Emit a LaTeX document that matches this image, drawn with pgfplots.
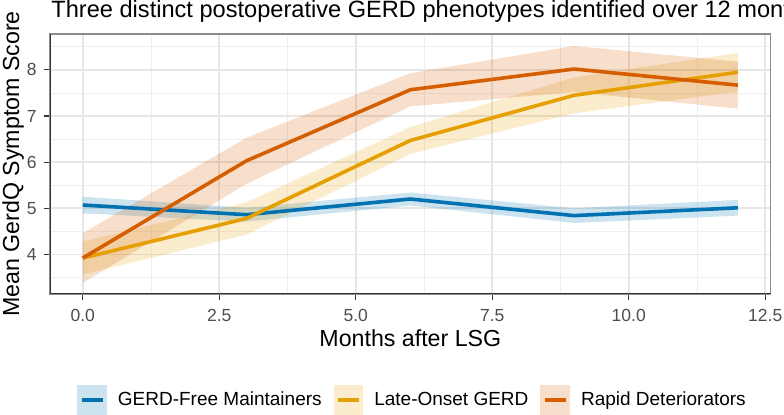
\documentclass[border=0pt]{standalone}
\usepackage{pgfplots}
\pgfplotsset{compat=1.18}
\usepackage{fontspec}
\setmainfont{Liberation Sans}

\definecolor{cfree}{HTML}{0072B2}
\definecolor{clate}{HTML}{E69F00}
\definecolor{crapid}{HTML}{D55E00}
\definecolor{gridmajor}{HTML}{E6E6E6}
\definecolor{gridminor}{HTML}{EFEFEF}
\definecolor{grey30}{HTML}{4D4D4D}
\definecolor{grey20}{HTML}{333333}
\definecolor{bordergrey}{HTML}{8C8C8C}

\pgfplotsset{
  freekey/.style={legend image code/.code={
    \fill[cfree!20] (0pt,-6.5pt) rectangle (13pt,6.5pt);
    \draw[line width=1.8pt] (1.2pt,0pt) -- (11.8pt,0pt);}},
  latekey/.style={legend image code/.code={
    \fill[clate!20] (0pt,-6.5pt) rectangle (13pt,6.5pt);
    \draw[line width=1.8pt] (1.2pt,0pt) -- (11.8pt,0pt);}},
  rapidkey/.style={legend image code/.code={
    \fill[crapid!20] (0pt,-6.5pt) rectangle (13pt,6.5pt);
    \draw[line width=1.8pt] (1.2pt,0pt) -- (11.8pt,0pt);}},
}

\begin{document}
\begin{tikzpicture}
\begin{axis}[
  at={(25pt,60.5pt)}, anchor=south west,
  scale only axis, width=360.35pt, height=130pt,
  xmin=-0.6, xmax=12.6, ymin=3.14, ymax=8.78,
  xtick={0,2.5,5,7.5,10,12.5},
  xticklabels={0.0,2.5,5.0,7.5,10.0,12.5},
  ytick={4,5,6,7,8},
  minor xtick={1.25,3.75,6.25,8.75,11.25},
  minor ytick={3.5,4.5,5.5,6.5,7.5,8.5},
  grid=both,
  major grid style={gridmajor, line width=0.8pt},
  minor grid style={gridminor, line width=0.45pt},
  minor tick length=0pt,
  major tick length=3pt,
  tick align=outside,
  tick pos=left,
  tick style={grey20, line width=0.55pt},
  axis line style={bordergrey, line width=0.55pt},
  /pgf/number format/assume math mode=true,
  ticklabel style={font=\fontsize{8.75}{10}\selectfont, text=grey30, inner sep=0pt},
  xticklabel shift=4.5pt,
  yticklabel shift=3.5pt,
  every axis title shift=0pt,
  title={Three distinct postoperative GERD phenotypes identified over 12 months},
  title style={at={(axis description cs:0.0014,1.0642)}, anchor=base west,
    inner sep=0pt, font=\fontsize{11.8}{13}\selectfont},
  xlabel={Months after LSG},
  xlabel style={at={(axis description cs:0.5,-0.2027)}, anchor=base,
    inner sep=0pt, font=\fontsize{11.6}{13}\selectfont},
  ylabel={Mean GerdQ Symptom Score},
  ylabel style={at={(axis description cs:-0.0430,0.5)}, anchor=base,
    inner sep=0pt, font=\fontsize{11.6}{13}\selectfont},
  legend columns=3,
  legend style={at={(axis description cs:0.0379,-0.4077)}, anchor=west,
    draw=none, fill=none, inner sep=0pt, outer sep=0pt,
    font=\fontsize{9.5}{11}\selectfont,
    nodes={inner sep=0pt},
    /tikz/every odd column/.append style={column sep=5.5pt},
    /tikz/every even column/.append style={column sep=6pt}},
  legend cell align=left,
]
% confidence bands: upper edge left to right, lower edge back
\addplot[fill=cfree, fill opacity=0.2, draw=none, forget plot] coordinates {
  (0,5.25) (3,5.01) (6,5.34) (9,5.00) (12,5.18)
  (12,4.84) (9,4.68) (6,5.06) (3,4.71) (0,4.89)} -- cycle;
\addplot[fill=clate, fill opacity=0.2, draw=none, forget plot] coordinates {
  (0,4.28) (3,5.13) (6,6.76) (9,7.84) (12,8.37)
  (12,7.53) (9,7.06) (6,6.18) (3,4.43) (0,3.56)} -- cycle;
\addplot[fill=crapid, fill opacity=0.2, draw=none, forget plot] coordinates {
  (0,4.46) (3,6.53) (6,7.93) (9,8.52) (12,8.18)
  (12,7.16) (9,7.52) (6,7.21) (3,5.53) (0,3.38)} -- cycle;
% darker left and bottom axis lines
\draw[grey20, line width=0.55pt] (rel axis cs:0,1) -- (rel axis cs:0,0) -- (rel axis cs:1,0);
% mean trajectories
\addplot[cfree, line width=1.8pt, no markers, freekey] coordinates {
  (0,5.07) (3,4.86) (6,5.20) (9,4.84) (12,5.01)};
\addlegendentry{GERD-Free Maintainers}
\addplot[clate, line width=1.8pt, no markers, latekey] coordinates {
  (0,3.92) (3,4.78) (6,6.47) (9,7.45) (12,7.95)};
\addlegendentry{Late-Onset GERD}
\addplot[crapid, line width=1.8pt, no markers, rapidkey] coordinates {
  (0,3.92) (3,6.03) (6,7.57) (9,8.02) (12,7.67)};
\addlegendentry{Rapid Deteriorators}
\end{axis}
\pgfresetboundingbox
\useasboundingbox (0,0) rectangle (392pt,207.5pt);
\end{tikzpicture}
\end{document}
